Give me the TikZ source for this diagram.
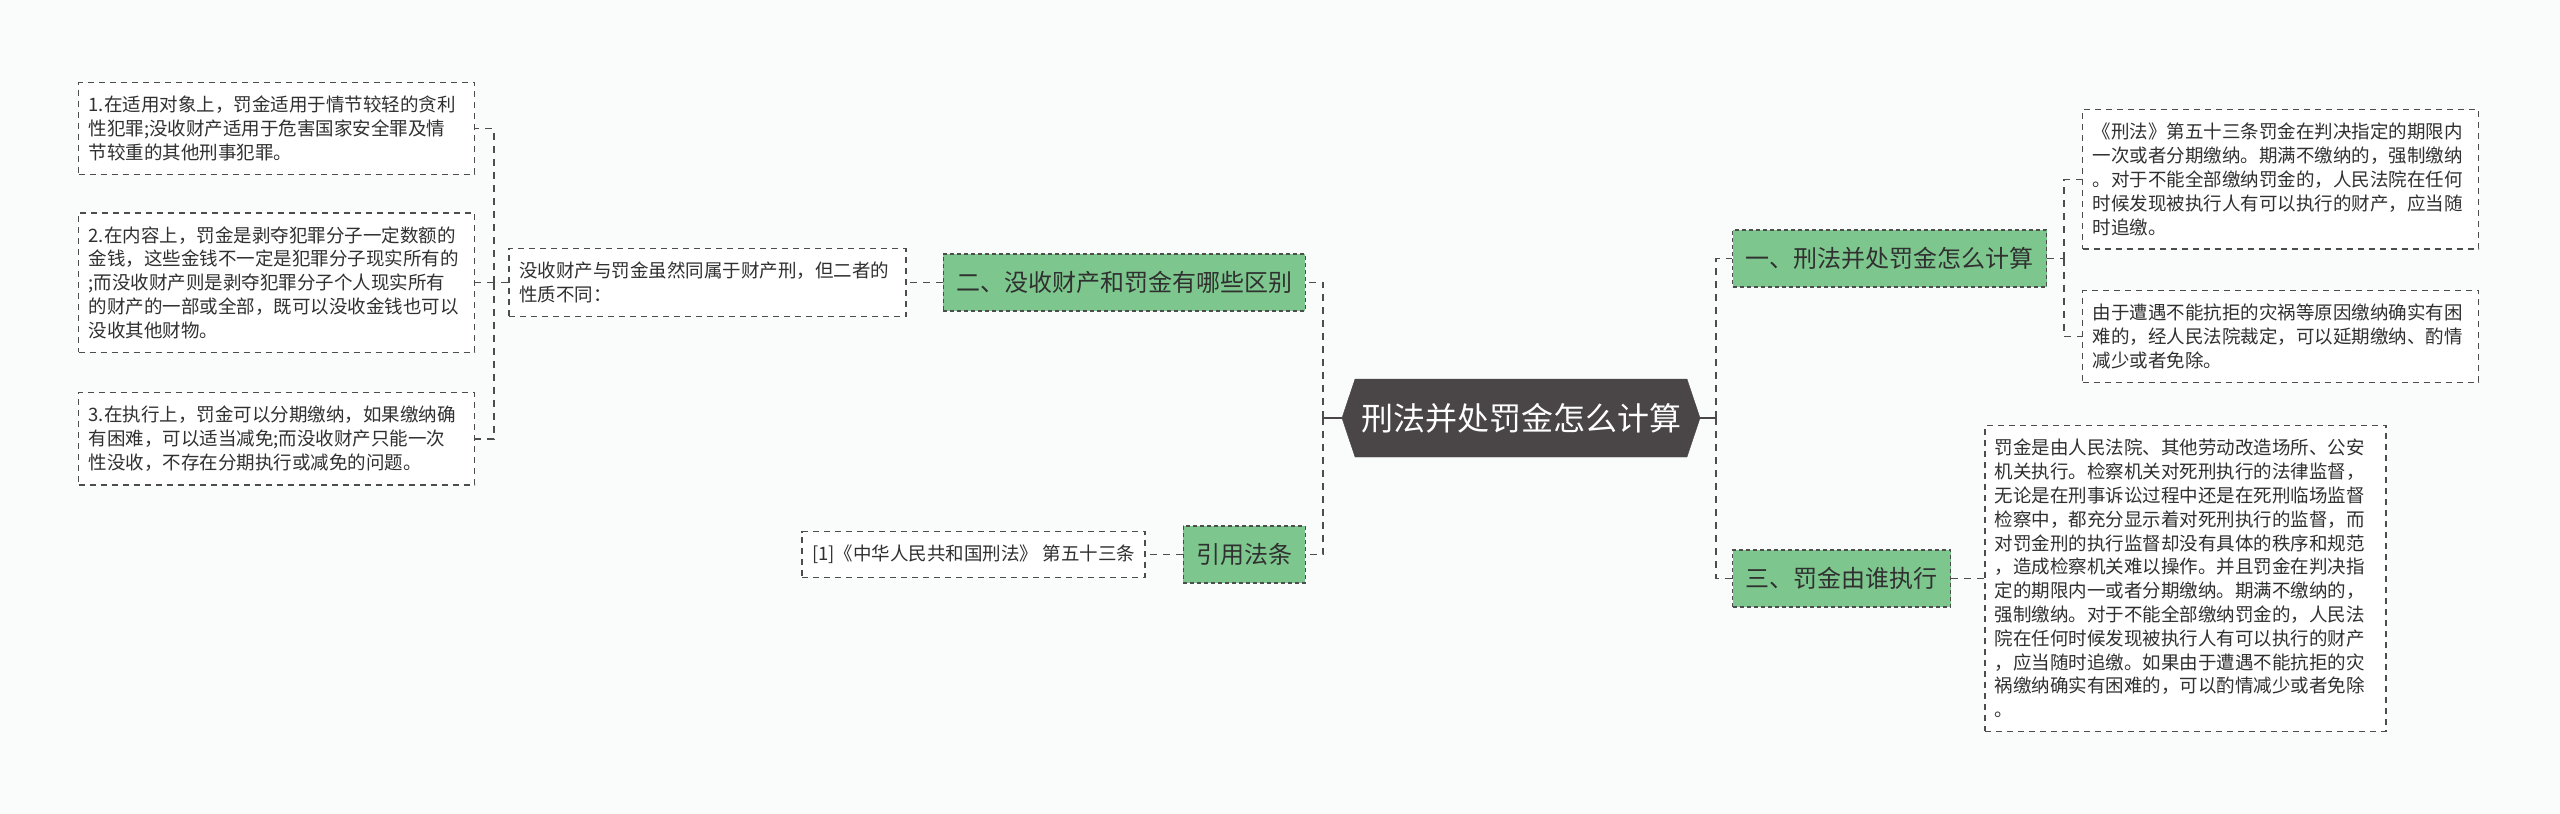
\documentclass[tikz,border=0pt]{standalone}
\usepackage{fontspec}
\setmainfont{Noto Sans CJK SC}
\usetikzlibrary{positioning,shapes.symbols}
\definecolor{RootGray}{HTML}{4A4546}
\definecolor{BranchGreen}{HTML}{7DC78E}
\definecolor{LineGray}{HTML}{4D4D4D}
\definecolor{TextGray}{HTML}{303030}
\definecolor{PaperTint}{HTML}{FAFCFC}

\begin{document}
\begin{tikzpicture}[x=1pt,y=-1pt,
    every node/.style={font=\fontsize{18.5}{23.8}\selectfont,text=TextGray},
    box/.style={rectangle,draw=LineGray,dash pattern=on 6pt off 5pt,
                line width=1.4pt,fill=white,align=left,
                inner xsep=10pt,inner ysep=13.5pt},
    leaf/.style={box,text width=376pt},
    branch/.style={rectangle,draw=LineGray,dash pattern=on 4pt off 3pt,
                   line width=1.2pt,fill=BranchGreen,minimum height=57pt,
                   inner xsep=13pt,inner ysep=0pt,
                   font=\fontsize{24}{28}\selectfont},
    link/.style={draw=LineGray,line width=1.8pt,dash pattern=on 7pt off 6pt},
    trunk/.style={draw=RootGray,line width=2.2pt}]
  \fill[PaperTint] (0,0) rectangle (2560,814);
  \useasboundingbox (0,0) rectangle (2560,814);

  % centre
  \node[signal,signal to=west and east,signal pointer angle=143,
        fill=RootGray,draw=RootGray,minimum width=358pt,minimum height=78pt,
        inner sep=0pt,text=white,font=\fontsize{32}{36}\selectfont]
    (root) at (1521,418) {刑法并处罚金怎么计算};
  \coordinate (lspine) at (1323,418);
  \coordinate (rspine) at (1716,418);

  % left side
  \node[branch,anchor=east] (two) at (1306,282.5)
    {二、没收财产和罚金有哪些区别};
  \node[leaf,text width=377pt,left=36pt of two] (note)
    {没收财产与罚金虽然同属于财产刑，但二者的\\
     性质不同：};
  \node[leaf,left=33pt of note] (diff2)
    {2.在内容上，罚金是剥夺犯罪分子一定数额的\\
     金钱，这些金钱不一定是犯罪分子现实所有的\\
     ;而没收财产则是剥夺犯罪分子个人现实所有\\
     的财产的一部或全部，既可以没收金钱也可以\\
     没收其他财物。};
  \node[leaf,above=37pt of diff2] (diff1)
    {1.在适用对象上，罚金适用于情节较轻的贪利\\
     性犯罪;没收财产适用于危害国家安全罪及情\\
     节较重的其他刑事犯罪。};
  \node[leaf,below=39pt of diff2] (diff3)
    {3.在执行上，罚金可以分期缴纳，如果缴纳确\\
     有困难，可以适当减免;而没收财产只能一次\\
     性没收，不存在分期执行或减免的问题。};
  \coordinate (nspine) at (494,282.5);

  \node[branch,anchor=east] (cite) at (1306,554.5) {引用法条};
  \node[box,left=37pt of cite] (citeleaf)
    {[1]《中华人民共和国刑法》 第五十三条};

  % right side
  \node[branch,anchor=west] (one) at (1732,258.5)
    {一、刑法并处罚金怎么计算};
  \node[leaf,anchor=north west] (howa) at (2082,109)
    {《刑法》第五十三条罚金在判决指定的期限内\\
     一次或者分期缴纳。期满不缴纳的，强制缴纳\\
     。对于不能全部缴纳罚金的，人民法院在任何\\
     时候发现被执行人有可以执行的财产，应当随\\
     时追缴。};
  \node[leaf,below=40pt of howa] (howb)
    {由于遭遇不能抗拒的灾祸等原因缴纳确实有困\\
     难的，经人民法院裁定，可以延期缴纳、酌情\\
     减少或者免除。};
  \coordinate (ospine) at (2064,258.5);

  \node[branch,anchor=west] (three) at (1732,578.5)
    {三、罚金由谁执行};
  \node[leaf,text width=381pt,right=33pt of three] (who)
    {罚金是由人民法院、其他劳动改造场所、公安\\
     机关执行。检察机关对死刑执行的法律监督，\\
     无论是在刑事诉讼过程中还是在死刑临场监督\\
     检察中，都充分显示着对死刑执行的监督，而\\
     对罚金刑的执行监督却没有具体的秩序和规范\\
     ，造成检察机关难以操作。并且罚金在判决指\\
     定的期限内一或者分期缴纳。期满不缴纳的，\\
     强制缴纳。对于不能全部缴纳罚金的，人民法\\
     院在任何时候发现被执行人有可以执行的财产\\
     ，应当随时追缴。如果由于遭遇不能抗拒的灾\\
     祸缴纳确实有困难的，可以酌情减少或者免除\\
     。};

  % connectors
  \draw[trunk] (root.west) -- (lspine);
  \draw[trunk] (root.east) -- (rspine);
  \draw[link] (lspine) |- (two.east);
  \draw[link] (lspine) |- (cite.east);
  \draw[link] (rspine) |- (one.west);
  \draw[link] (rspine) |- (three.west);
  \draw[link] (two.west) -- (note.east);
  \draw[link] (cite.west) -- (citeleaf.east);
  \draw[link] (note.west) -- (nspine);
  \draw[link] (nspine) |- (diff1.east);
  \draw[link] (nspine) |- (diff2.east);
  \draw[link] (nspine) |- (diff3.east);
  \draw[link] (one.east) -- (ospine);
  \draw[link] (ospine) |- (howa.west);
  \draw[link] (ospine) |- (howb.west);
  \draw[link] (three.east) -- (three.east -| who.west);
\end{tikzpicture}
\end{document}
